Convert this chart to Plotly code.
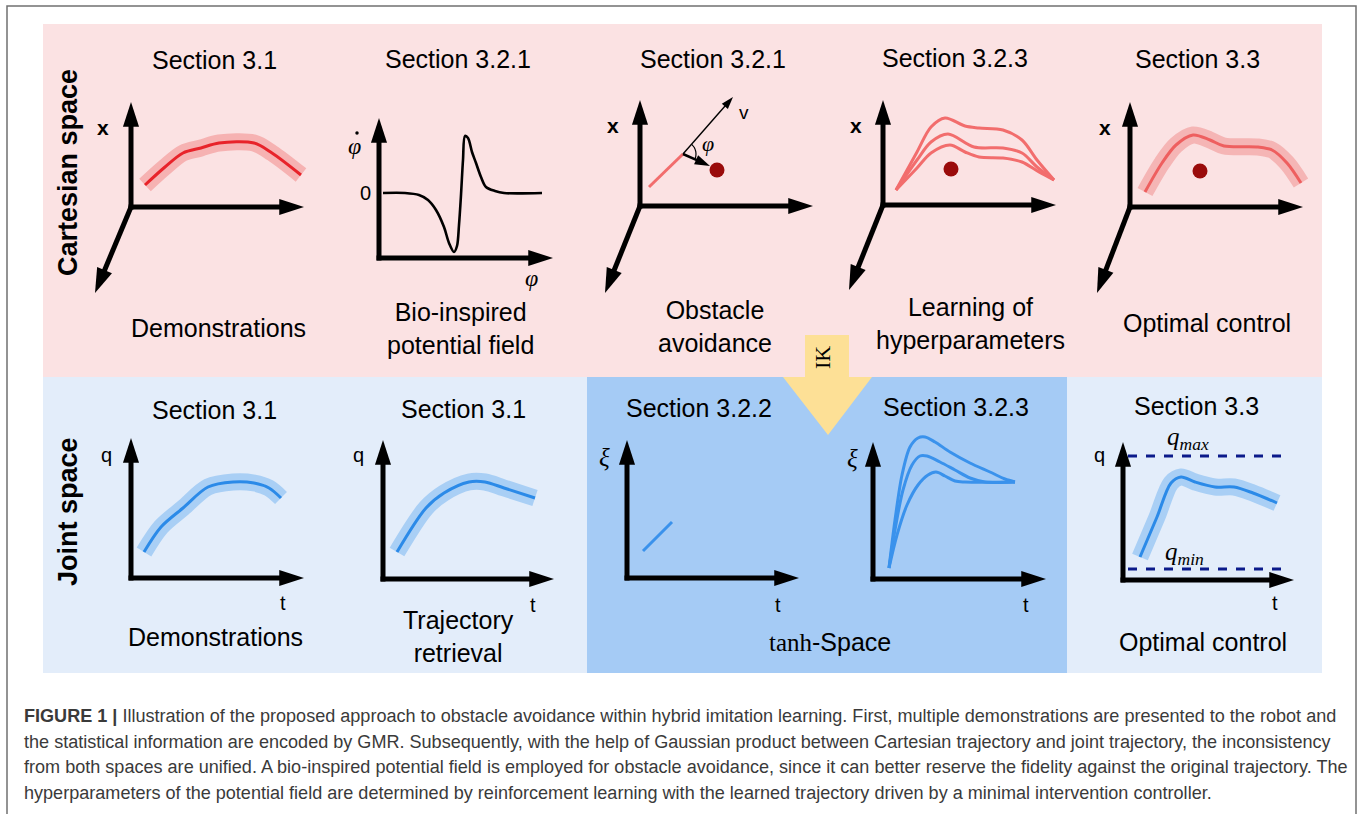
import plotly.graph_objects as go

W, H = 1360, 814

# ------------------------------------------------------------------
# Data (local units of each small plot: origin = axis corner, x right, y up)
# ------------------------------------------------------------------
# Cartesian demonstrations (section 3.1)
cart_demo_x = [14, 34, 52, 70, 88, 123, 141, 170]
cart_demo_y = [22, 40, 54, 59, 64, 64, 54, 32]

# Bio-inspired potential field  (phi vs d phi / dt)
field_phi = [4, 26, 40, 49, 57, 65, 70, 75, 78, 80, 82, 84, 86, 89, 93, 97, 102, 107, 116, 125, 163]
field_dphi = [65, 65, 63, 58, 48, 31, 15, 6, 12, 33, 63, 98, 122, 120, 106, 95, 81, 71, 67, 65, 65]

# Obstacle avoidance sketch
avoid_path_x = [9, 43]
avoid_path_y = [19, 52]
velocity_x = [43, 93]
velocity_y = [52, 109]
steer_x = [43, 70]
steer_y = [52, 40]
angle_arc_x = [51.7, 54.3, 55.8, 55.8, 54.9]
angle_arc_y = [61.7, 58.5, 54.3, 49.7, 46.7]
obstacle_avoid = (77, 36)

# Learning of hyperparameters (three candidate trajectories)
hyper_top_x = [13, 34, 48, 62, 82, 96, 120, 139, 154, 171]
hyper_top_y = [15, 53, 78, 87, 79, 77, 75, 65, 45, 25]
hyper_mid_x = [13, 34, 48, 65, 91, 120, 139, 154, 171]
hyper_mid_y = [15, 45, 63, 71, 58, 57, 52, 38, 25]
hyper_low_x = [13, 34, 48, 67, 82, 96, 120, 139, 156, 171]
hyper_low_y = [15, 37, 52, 60, 53, 48, 47, 43, 33, 25]
obstacle_hyper = (68, 36)

# Cartesian optimal control
cart_opt_x = [15, 32, 46, 63, 80, 94, 128, 142, 157, 171]
cart_opt_y = [15, 44, 62, 72, 67, 61, 60, 57, 44, 24]
obstacle_opt = (70, 36)

# Joint-space demonstrations and retrieval
joint_demo_t = [13, 30, 52, 77, 102, 123, 138, 150]
joint_demo_q = [26, 51, 70, 91, 96, 95, 90, 80]
joint_retr_t = [14, 43, 61, 86, 102, 121, 152]
joint_retr_q = [27, 71, 86, 97, 97, 91, 81]

# tanh-space
tanh_seg_t = [16, 45]
tanh_seg_xi = [27, 56]
tanh_top_t = [16, 22, 29, 37, 45, 52, 62, 77, 97, 117, 132, 142]
tanh_top_xi = [11, 59, 104, 132, 141, 142, 137, 127, 116, 107, 100, 97]
tanh_mid_t = [16, 22, 30, 39, 47, 54, 67, 82, 97, 112, 142]
tanh_mid_xi = [11, 49, 89, 114, 123, 123, 117, 109, 101, 97, 97]
tanh_low_t = [16, 24, 34, 45, 55, 63, 72, 82, 92, 142]
tanh_low_xi = [11, 44, 74, 94, 104, 107, 103, 98, 97, 97]

# Joint optimal control with limits
joint_opt_t = [17, 34, 48, 58, 72, 92, 111, 130, 154]
joint_opt_q = [23, 63, 97, 103, 98, 93, 93, 87, 77]
q_max = 124
q_min = 11
limit_t = [5, 159]

# Text content
top_titles = ["Section 3.1", "Section 3.2.1", "Section 3.2.1", "Section 3.2.3", "Section 3.3"]
bottom_titles = ["Section 3.1", "Section 3.1", "Section 3.2.2", "Section 3.2.3", "Section 3.3"]
top_captions = ["Demonstrations", "Bio-inspired<br>potential field", "Obstacle<br>avoidance",
                "Learning of<br>hyperparameters", "Optimal control"]
bottom_captions = ["Demonstrations", "Trajectory<br>retrieval",
                   "<span style='font-family:Liberation Serif'>tanh</span>-Space", "Optimal control"]
caption_lines = [
    "<b>FIGURE 1 |</b> Illustration of the proposed approach to obstacle avoidance within hybrid imitation learning. First, multiple demonstrations are presented to the robot and",
    "the statistical information are encoded by GMR. Subsequently, with the help of Gaussian product between Cartesian trajectory and joint trajectory, the inconsistency",
    "from both spaces are unified. A bio-inspired potential field is employed for obstacle avoidance, since it can better reserve the fidelity against the original trajectory. The",
    "hyperparameters of the potential field are determined by reinforcement learning with the learned trajectory driven by a minimal intervention controller.",
]

# ------------------------------------------------------------------
# Layout of the small plots (pixel position of each axis corner + arrow tips)
# ------------------------------------------------------------------
panels = [
    dict(origin=(131, 207), up=105, right=173, diag=(-36, -86)),   # 1 cart demo
    dict(origin=(379, 258), up=140, right=174, diag=None),          # 2 field
    dict(origin=(640, 206), up=106, right=173, diag=(-35, -87)),    # 3 avoidance
    dict(origin=(883, 205), up=105, right=173, diag=(-34, -85)),    # 4 hyper
    dict(origin=(1130, 207), up=105, right=173, diag=(-33, -86)),   # 5 cart opt
    dict(origin=(131, 578), up=140, right=173, diag=None),          # 6 joint demo
    dict(origin=(383, 579), up=139, right=171, diag=None),          # 7 retrieval
    dict(origin=(627, 578), up=138, right=172, diag=None),          # 8 tanh
    dict(origin=(873, 579), up=137, right=173, diag=None),          # 9 tanh hyper
    dict(origin=(1123, 580), up=138, right=171, diag=None),         # 10 joint opt
]

fig = go.Figure()
layout_axes = {}
layout_axes["xaxis"] = dict(range=[0, W], domain=[0, 1], visible=False, fixedrange=True)
layout_axes["yaxis"] = dict(range=[H, 0], domain=[0, 1], visible=False, fixedrange=True)
refs = []
for i, p in enumerate(panels):
    n = i + 2
    ox, oy = p["origin"]
    layout_axes[f"xaxis{n}"] = dict(range=[-ox, W - ox], overlaying="x", visible=False, fixedrange=True)
    layout_axes[f"yaxis{n}"] = dict(range=[oy - H, oy], overlaying="y", visible=False, fixedrange=True)
    refs.append((f"x{n}", f"y{n}"))

# anchor trace for the page axis
fig.add_trace(go.Scatter(x=[0], y=[0], mode="markers", marker=dict(size=0, opacity=0),
                         showlegend=False, hoverinfo="skip"))


def line(ref, xs, ys, color, width, shape="spline", dash=None):
    fig.add_trace(go.Scatter(x=xs, y=ys, mode="lines",
                             line=dict(color=color, width=width, shape=shape, dash=dash, smoothing=0.9),
                             xaxis=ref[0], yaxis=ref[1], showlegend=False, hoverinfo="skip"))


def arrow(ref, x0, y0, x1, y1, width=5, size=26, color="#000000"):
    fig.add_trace(go.Scatter(x=[x0, x1], y=[y0, y1], mode="lines+markers",
                             line=dict(color=color, width=width),
                             marker=dict(symbol="arrow", size=[0, size], angleref="previous",
                                         color=color, opacity=1, line=dict(width=0)),
                             opacity=1,
                             xaxis=ref[0], yaxis=ref[1], showlegend=False, hoverinfo="skip"))


def dot(ref, pt, color="#9A0B0B", size=15):
    fig.add_trace(go.Scatter(x=[pt[0]], y=[pt[1]], mode="markers",
                             marker=dict(color=color, size=size, line=dict(width=0)),
                             xaxis=ref[0], yaxis=ref[1], showlegend=False, hoverinfo="skip"))


annotations = []


def label(ref, x, y, text, size=20, family="Liberation Sans", color="black", **kw):
    annotations.append(dict(xref=ref[0], yref=ref[1], x=x, y=y, text=text, showarrow=False,
                            xanchor="center", yanchor="middle",
                            font=dict(size=size, family=family, color=color), **kw))


def page_text(x, y, text, size=25, family="Liberation Sans", color="black", **kw):
    annotations.append(dict(xref="x", yref="y", x=x, y=y, text=text, showarrow=False,
                            font=dict(size=size, family=family, color=color), **kw))


# ---------------- curves ----------------
RED, RED_BAND = "#E8232A", "#F6B2B2"
LRED = "#F26D6D"
BLUE, BLUE_BAND = "#2B8AE8", "#A9CFF5"
NAVY = "#0B1A8A"

r = refs
# 1
line(r[0], cart_demo_x, cart_demo_y, RED_BAND, 17)
line(r[0], cart_demo_x, cart_demo_y, RED, 3)
# 2
line(r[1], field_phi, field_dphi, "black", 2.6)
# 3
line(r[2], avoid_path_x, avoid_path_y, LRED, 3, shape="linear")
arrow(r[2], velocity_x[0], velocity_y[0], velocity_x[1], velocity_y[1], width=1.4, size=13)
arrow(r[2], steer_x[0], steer_y[0], steer_x[1], steer_y[1], width=2.5, size=16)
line(r[2], angle_arc_x, angle_arc_y, "black", 1.2)
dot(r[2], obstacle_avoid)
# 4
line(r[3], hyper_top_x, hyper_top_y, LRED, 3)
line(r[3], hyper_mid_x, hyper_mid_y, LRED, 3)
line(r[3], hyper_low_x, hyper_low_y, LRED, 3)
dot(r[3], obstacle_hyper)
# 5
line(r[4], cart_opt_x, cart_opt_y, "#F5B5B5", 17)
line(r[4], cart_opt_x, cart_opt_y, "#EE5F5F", 3)
dot(r[4], obstacle_opt)
# 6
line(r[5], joint_demo_t, joint_demo_q, BLUE_BAND, 17)
line(r[5], joint_demo_t, joint_demo_q, BLUE, 3)
# 7
line(r[6], joint_retr_t, joint_retr_q, BLUE_BAND, 17)
line(r[6], joint_retr_t, joint_retr_q, BLUE, 3)
# 8
line(r[7], tanh_seg_t, tanh_seg_xi, "#3A92EC", 3, shape="linear")
# 9
line(r[8], tanh_top_t, tanh_top_xi, "#3A92EC", 3)
line(r[8], tanh_mid_t, tanh_mid_xi, "#3A92EC", 3)
line(r[8], tanh_low_t, tanh_low_xi, "#3A92EC", 3)
# 10
line(r[9], limit_t, [q_max, q_max], NAVY, 3, shape="linear", dash="dash")
line(r[9], limit_t, [q_min, q_min], NAVY, 3, shape="linear", dash="dash")
line(r[9], joint_opt_t, joint_opt_q, BLUE_BAND, 17)
line(r[9], joint_opt_t, joint_opt_q, BLUE, 3)

# ---------------- axis arrows ----------------
for i, p in enumerate(panels):
    ref = refs[i]
    arrow(ref, 0, -2.5, 0, p["up"])
    arrow(ref, -2.5, 0, p["right"], 0)
    if p["diag"] is not None:
        arrow(ref, 0, 0, p["diag"][0], p["diag"][1])

# time-derivative dot over phi (drawn as a mark)
dot(r[1], (-22, 125), color="black", size=3.5)

# ---------------- axis letters ----------------
label(r[0], -28, 80, "<b>x</b>", 21)
label(r[1], -25, 112, "<i>φ</i>", 24, "Liberation Serif")
label(r[1], -14, 65, "0", 20)
label(r[1], 152, -20, "<i>φ</i>", 24, "Liberation Serif")
label(r[2], -27, 81, "<b>x</b>", 21)
label(r[2], 104, 94, "v", 19)
label(r[2], 68, 63, "<i>φ</i>", 22, "Liberation Serif")
label(r[3], -27, 80, "<b>x</b>", 21)
label(r[4], -25, 80, "<b>x</b>", 21)
label(r[5], -25, 123, "q", 20)
label(r[5], 152, -25, "t", 20)
label(r[6], -25, 124, "q", 20)
label(r[6], 150, -26, "t", 20)
label(r[7], -23, 121, "<i>ξ</i>", 25, "Liberation Serif")
label(r[7], 151, -27, "t", 20)
label(r[8], -21, 121, "<i>ξ</i>", 25, "Liberation Serif")
label(r[8], 153, -26, "t", 20)
label(r[9], -24, 125, "q", 20)
label(r[9], 152, -23, "t", 20)
label(r[9], 65, 142, "<i>q<sub>max</sub></i>", 25, "Liberation Serif")
label(r[9], 61, 27, "<i>q<sub>min</sub></i>", 25, "Liberation Serif")

# ---------------- titles and captions ----------------
for t, x, y in zip(top_titles, [214, 458, 713, 955, 1197], [60, 59, 59, 58, 59]):
    page_text(x, y, t)
for t, x, y in zip(bottom_titles, [214, 463, 699, 956, 1196], [410, 409, 408, 407, 406]):
    page_text(x, y, t)
for t, x, y in zip(top_captions, [218, 460, 715, 970, 1207], [328, 328, 326, 323, 323]):
    page_text(x, y, t)
for t, x, y in zip(bottom_captions, [215, 458, 830, 1203], [637, 636, 642, 642]):
    page_text(x, y, t)

page_text(68, 173, "<b>Cartesian space</b>", 27, textangle=-90)
page_text(68, 512, "<b>Joint space</b>", 27, textangle=-90)
page_text(822, 358, "IK", 22, "Liberation Serif", textangle=-90)

for i, (t, y) in enumerate(zip(caption_lines, [716, 742, 767, 793])):
    page_text(22, y, t, 18.07, color="#3a3a3a", xanchor="left")

# ---------------- background shapes ----------------
shapes = [
    dict(type="rect", xref="x", yref="y", x0=7, x1=1356, y0=6, y1=830,
         line=dict(color="#707070", width=1.5), fillcolor="white", layer="below"),
    dict(type="rect", xref="x", yref="y", x0=43, x1=1322, y0=24, y1=377,
         line=dict(width=0), fillcolor="#FBE2E3", layer="below"),
    dict(type="rect", xref="x", yref="y", x0=43, x1=1322, y0=377, y1=673,
         line=dict(width=0), fillcolor="#E3EDFA", layer="below"),
    dict(type="rect", xref="x", yref="y", x0=587, x1=1067, y0=377, y1=673,
         line=dict(width=0), fillcolor="#A5CBF5", layer="below"),
    dict(type="path", xref="x", yref="y",
         path="M805,335 L849,335 L849,377 L872,377 L828,435 L783,377 L805,377 Z",
         line=dict(width=0), fillcolor="#FDE096", layer="below"),
]

fig.update_layout(
    width=W, height=H, autosize=False,
    margin=dict(l=0, r=0, t=0, b=0),
    paper_bgcolor="white", plot_bgcolor="rgba(0,0,0,0)",
    showlegend=False,
    shapes=shapes,
    annotations=annotations,
    **layout_axes,
)

fig.write_html("out.html", config=dict(displayModeBar=False, staticPlot=True),
               post_script="document.body.style.margin='0px';document.body.style.overflow='hidden';")
